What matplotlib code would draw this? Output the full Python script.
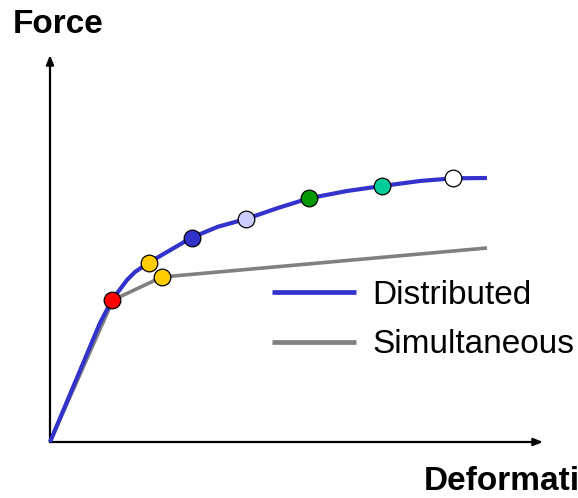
import matplotlib
matplotlib.use("Agg")
import matplotlib.pyplot as plt

plt.rcParams['font.family'] = ['Liberation Sans', 'DejaVu Sans']

# Force-deformation curves (arbitrary units)
dist_x = [0, 50, 62, 77, 85, 99, 117, 141.5, 168, 196, 227, 259, 297, 332, 370, 403, 437]
dist_y = [0, 119, 142, 162, 170, 179.5, 190, 204.3, 215.3, 223, 233.7, 243.7, 251, 256, 261, 263.7, 264]

simul_x = [0, 63, 112, 437]
simul_y = [0, 142, 165, 194]

# coloured points along the distributed curve
pt_x = [62, 99, 141.5, 196, 259, 332, 403]
pt_y = [142, 179.5, 204.3, 223, 243.7, 256, 263.7]
pt_colors = ["#FF0000", "#FFCC00", "#3333CC", "#CCCCFF", "#009900", "#00CC99", "#FFFFFF"]

# yielding point on the simultaneous curve
sim_pt_x = [112.3]
sim_pt_y = [165.3]
sim_pt_color = "#FFCC00"

fig = plt.figure(figsize=(5.78, 4.98), dpi=100)
ax = fig.add_axes([0, 0, 1, 1])
ax.set_xlim(-50, 528)
ax.set_ylim(-56, 442)
ax.axis('off')

# axes with arrows
arrow = dict(arrowstyle='-|>,head_length=0.55,head_width=0.22', color='black', lw=1.6,
             shrinkA=0, shrinkB=0)
ax.annotate('', xy=(0, 387), xytext=(0, 0), arrowprops=arrow)
ax.annotate('', xy=(493, 0), xytext=(0, 0), arrowprops=arrow)

ax.plot(simul_x, simul_y, color="#808080", lw=2.6, solid_capstyle='butt', label="Simultaneous", zorder=2)
ax.plot(dist_x, dist_y, color="#3333CC", lw=3.0, solid_capstyle='butt', label="Distributed", zorder=3)

for x, y, c in zip(pt_x, pt_y, pt_colors):
    ax.plot(x, y, 'o', ms=12, mfc=c, mec='black', mew=0.9, zorder=5)
ax.plot(sim_pt_x, sim_pt_y, 'o', ms=12, mfc=sim_pt_color, mec='black', mew=0.9, zorder=5)

ax.text(-37.3, 408.7, "Force", fontsize=24, fontweight='bold', ha='left', va='baseline')
ax.text(373.3, -48, "Deformation", fontsize=24, fontweight='bold', ha='left', va='baseline')

handles, labels = ax.get_legend_handles_labels()
leg = ax.legend(handles[::-1], labels[::-1], loc='center left', bbox_to_anchor=(272 / 578, 1 - 320 / 498),
                frameon=False, fontsize=24, handlelength=2.52, handletextpad=0.48,
                borderpad=0, borderaxespad=0, labelspacing=0.56)
for line in leg.get_lines():
    line.set_linewidth(3.4)

fig.savefig("out.png", dpi=100)
